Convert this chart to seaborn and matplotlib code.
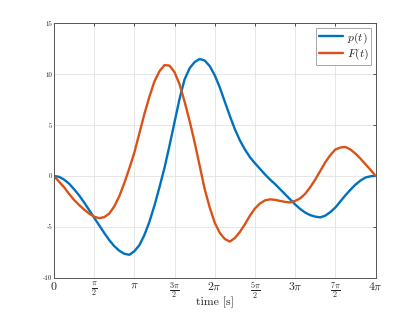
import pandas as pd
import matplotlib
matplotlib.use("Agg")
import matplotlib.pyplot as plt
import seaborn as sns

t_pi = [0, 0.0625, 0.125, 0.1875, 0.25, 0.3125, 0.375, 0.4375,
        0.5, 0.5625, 0.625, 0.6875, 0.75, 0.8125, 0.875, 0.9375,
        1.0, 1.0625, 1.125, 1.1875, 1.25, 1.3125, 1.375, 1.4375,
        1.5, 1.5625, 1.625, 1.6875, 1.75, 1.8125, 1.875, 1.9375,
        2.0, 2.0625, 2.125, 2.1875, 2.25, 2.3125, 2.375, 2.4375,
        2.5, 2.5625, 2.625, 2.6875, 2.75, 2.8125, 2.875, 2.9375,
        3.0, 3.0625, 3.125, 3.1875, 3.25, 3.3125, 3.375, 3.4375,
        3.5, 3.5625, 3.625, 3.6875, 3.75, 3.8125, 3.875, 3.9375, 4.0]

p_vals = [0, -0.08, -0.35, -0.75, -1.3, -1.9, -2.6, -3.35,
          -4.1, -4.85, -5.6, -6.3, -6.9, -7.35, -7.65, -7.75,
          -7.4, -6.8, -5.8, -4.5, -2.9, -1.1, 0.8, 3.0,
          5.3, 7.6, 9.5, 10.6, 11.2, 11.5, 11.35, 10.8,
          9.9, 8.7, 7.3, 5.9, 4.6, 3.5, 2.6, 1.85,
          1.25, 0.7, 0.15, -0.35, -0.8, -1.3, -1.8, -2.3,
          -2.8, -3.25, -3.6, -3.85, -4.0, -4.07, -3.9, -3.55,
          -3.1, -2.5, -1.9, -1.35, -0.85, -0.45, -0.15, -0.03, 0]

F_vals = [0, -0.55, -1.1, -1.75, -2.35, -2.85, -3.3, -3.7,
          -4.0, -4.15, -4.05, -3.7, -3.0, -2.0, -0.7, 0.75,
          2.3, 4.2, 6.1, 7.8, 9.3, 10.3, 10.9, 10.85,
          10.2, 9.0, 7.3, 5.4, 3.3, 1.0, -1.3, -3.1,
          -4.6, -5.6, -6.2, -6.45, -6.1, -5.5, -4.75, -3.9,
          -3.2, -2.7, -2.4, -2.3, -2.35, -2.45, -2.55, -2.6,
          -2.45, -2.2, -1.75, -1.1, -0.35, 0.5, 1.35, 2.05,
          2.6, 2.8, 2.85, 2.6, 2.2, 1.7, 1.15, 0.6, 0]

x_ticks = [0, 0.5, 1, 1.5, 2, 2.5, 3, 3.5, 4]
x_labels = [r"$0$", r"$\frac{\pi}{2}$", r"$\pi$", r"$\frac{3\pi}{2}$", r"$2\pi$",
            r"$\frac{5\pi}{2}$", r"$3\pi$", r"$\frac{7\pi}{2}$", r"$4\pi$"]
y_ticks = [-10, -5, 0, 5, 10, 15]
y_labels = ["-10", "-5", "0", "5", "10", "15"]

sns.set_style("whitegrid")
plt.rcParams["mathtext.fontset"] = "cm"
plt.rcParams["font.family"] = "serif"
plt.rcParams["font.serif"] = ["cmr10", "DejaVu Serif"]
plt.rcParams["axes.unicode_minus"] = False

df = pd.DataFrame({"t": t_pi, "p": p_vals, "F": F_vals})

fig = plt.figure(figsize=(4.15, 3.12), dpi=100)
ax = fig.add_axes([0.13, 0.11, 0.775, 0.815])

sns.lineplot(data=df, x="t", y="p", ax=ax, color="#0072BD", lw=1.7,
             label=r"$p(t)$", sort=False)
sns.lineplot(data=df, x="t", y="F", ax=ax, color="#D95319", lw=1.7,
             label=r"$F(t)$", sort=False)

ax.set_xlim(0, 4)
ax.set_ylim(-10, 15)
ax.set_xticks(x_ticks)
ax.set_xticklabels(x_labels, fontsize=8.5)
ax.set_yticks(y_ticks)
ax.set_yticklabels(y_labels, fontsize=5)
ax.set_xlabel("time [s]", fontsize=8.5, labelpad=-3)
ax.set_ylabel("")

ax.grid(True, color="#e3e3e3", lw=0.6)
for s in ax.spines.values():
    s.set_color("#555555")
    s.set_linewidth(0.7)
ax.tick_params(direction="in", length=2.5, width=0.6, color="#333333",
               top=True, right=True, pad=2)
ax.tick_params(axis="y", pad=1)

leg = ax.legend(loc="upper right", fontsize=8.5, handlelength=2.0,
                fancybox=False, framealpha=1, edgecolor="#999999",
                borderpad=0.25, labelspacing=0.1, handletextpad=0.3,
                borderaxespad=0.35)
leg.get_frame().set_linewidth(0.6)

fig.savefig("out.png", dpi=100)
